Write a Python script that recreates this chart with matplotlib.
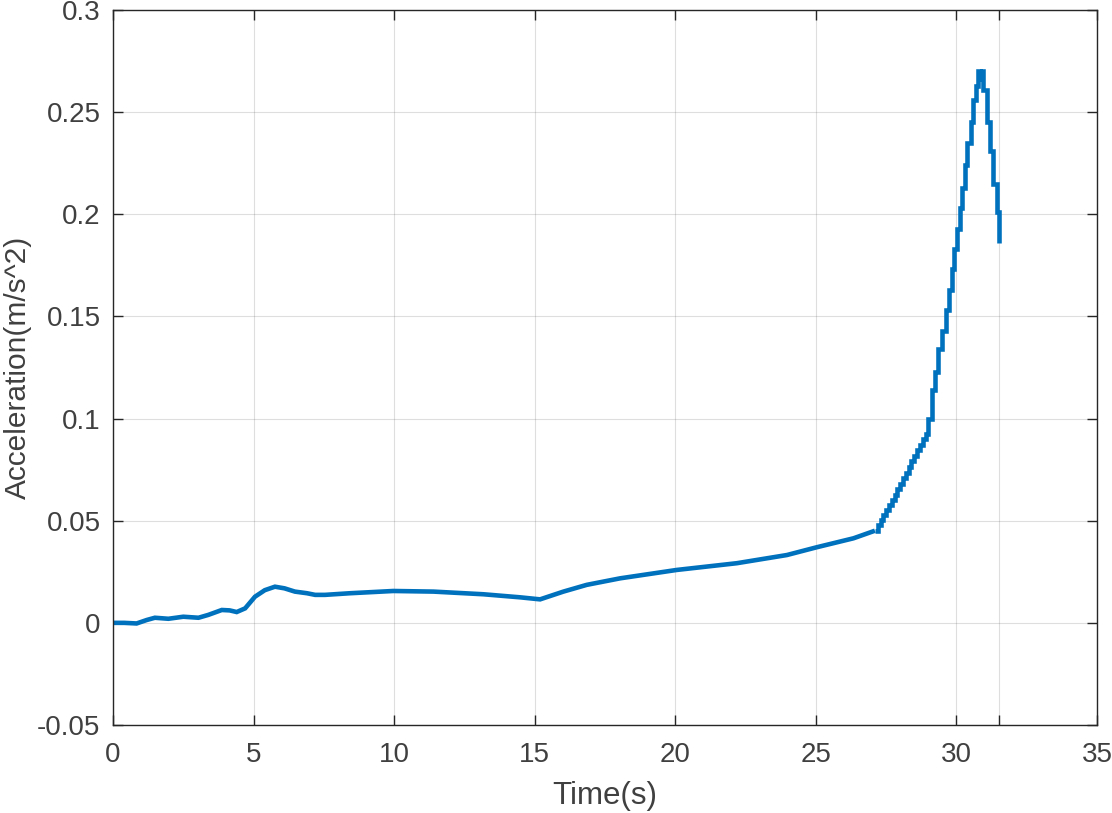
import matplotlib
matplotlib.use("Agg")
import matplotlib.pyplot as plt

# Smooth part of the acceleration record (time in s, acceleration in m/s^2)
smooth_t = [0.0, 0.4, 0.84, 1.2, 1.49, 1.97, 2.5, 3.04, 3.39, 3.87, 4.15, 4.40, 4.70,
            5.05, 5.4, 5.76, 6.1, 6.47, 6.9, 7.19, 7.54, 8.43, 9.97, 11.4, 13.17,
            14.48, 15.19, 16.02, 16.85, 18.04, 20.05, 22.19, 23.97, 25.03, 26.34, 27.1]
smooth_a = [0.0, 0.0, -0.0003, 0.0014, 0.0025, 0.002, 0.003, 0.0025, 0.0039, 0.0063,
            0.0061, 0.0053, 0.0071, 0.0128, 0.016, 0.0177, 0.0169, 0.0153, 0.0145,
            0.0137, 0.0137, 0.0145, 0.0156, 0.0153, 0.014, 0.0125, 0.0115, 0.0153,
            0.0186, 0.0218, 0.0259, 0.0292, 0.0332, 0.037, 0.0414, 0.0451]

# Stair-stepped (sample-and-hold) part at the end of the record
step_t = [27.1, 27.2, 27.3, 27.4, 27.5, 27.6, 27.7, 27.8, 27.9, 28.0, 28.1, 28.2, 28.3,
          28.4, 28.5, 28.6, 28.7, 28.8, 28.9, 29.0, 29.12, 29.24, 29.36, 29.48, 29.62,
          29.74, 29.84, 29.93, 30.02, 30.12, 30.21, 30.30, 30.38, 30.51, 30.60, 30.70,
          30.76, 30.85, 30.90, 30.96, 31.08, 31.20, 31.31, 31.43, 31.52]
step_a = [0.0451, 0.0478, 0.0503, 0.0528, 0.0553, 0.0578, 0.0603, 0.0628, 0.0655,
          0.0682, 0.0708, 0.0735, 0.0762, 0.0790, 0.0818, 0.0846, 0.0873, 0.0900,
          0.0925, 0.1000, 0.114, 0.123, 0.134, 0.143, 0.153, 0.163, 0.173, 0.183,
          0.193, 0.203, 0.213, 0.224, 0.235, 0.245, 0.256, 0.263, 0.270, 0.266,
          0.270, 0.261, 0.245, 0.231, 0.215, 0.201, 0.186]

x_ticks = [0, 5, 10, 15, 20, 25, 30, 31.52, 35]
x_tick_labels = ["0", "5", "10", "15", "20", "25", "30", "", "35"]
y_ticks = [-0.05, 0.0, 0.05, 0.1, 0.15, 0.2, 0.25, 0.3]
y_tick_labels = ["-0.05", "0", "0.05", "0.1", "0.15", "0.2", "0.25", "0.3"]

plt.rcParams["font.family"] = ["Liberation Sans", "DejaVu Sans"]
txt = "#404040"
axc = "#262626"
blue = "#0072BD"

fig = plt.figure(figsize=(11.12, 8.13), dpi=100)
ax = fig.add_axes([113 / 1112, 88 / 813, 984 / 1112, 715 / 813])

kw = dict(color=blue, linewidth=3.3, solid_joinstyle="miter", solid_capstyle="butt")
ax.plot(smooth_t, smooth_a, **kw)
ax.plot(step_t, step_a, drawstyle="steps-post", **kw)

ax.set_xlim(0, 35)
ax.set_ylim(-0.05, 0.3)
ax.set_xticks(x_ticks)
ax.set_xticklabels(x_tick_labels)
ax.set_yticks(y_ticks)
ax.set_yticklabels(y_tick_labels)

ax.grid(True, color=axc, alpha=0.15, linewidth=0.8)
ax.set_axisbelow(True)

for s in ax.spines.values():
    s.set_color(axc)
    s.set_linewidth(1.0)

ax.tick_params(axis="both", which="both", direction="in", top=True, right=True,
               length=7, width=1.0, color=axc, labelcolor=txt, labelsize=20)
ax.tick_params(axis="x", pad=12)
ax.tick_params(axis="y", pad=9)

ax.set_xlabel("Time(s)", fontsize=22.5, color=txt)
ax.set_ylabel("Acceleration(m/s^2)", fontsize=21.5, color=txt)
ax.xaxis.set_label_coords(0.5, -0.078)
ax.yaxis.set_label_coords(-0.082, 0.5)

fig.savefig("out.png", dpi=100)
